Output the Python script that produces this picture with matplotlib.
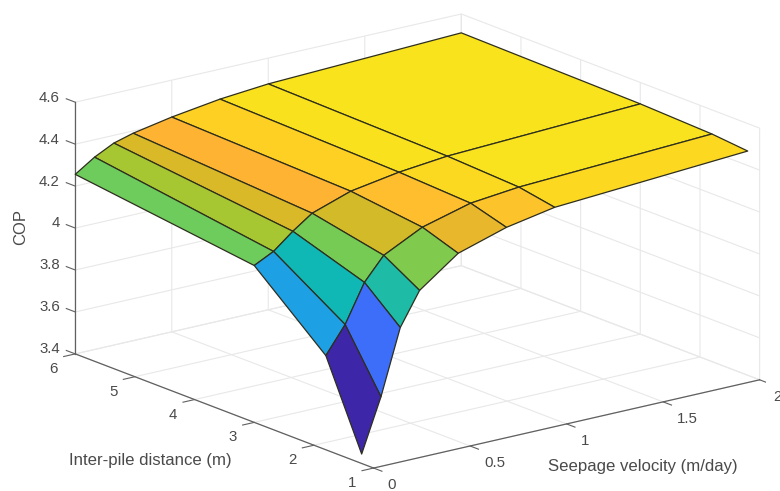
import numpy as np
import matplotlib
matplotlib.use('Agg')
import matplotlib.pyplot as plt
from matplotlib.colors import LinearSegmentedColormap, Normalize

plt.rcParams['font.family'] = ['Liberation Sans', 'DejaVu Sans']

# Seepage velocity (m/day) and inter-pile distance (m) of the mesh
velocity = [0, 0.1, 0.2, 0.3, 0.5, 0.75, 1, 2]
distance = [1.2, 1.8, 3, 6]

# COP, one row per inter-pile distance
cop_d12 = [3.445, 3.697, 4.006, 4.162, 4.297, 4.368, 4.411, 4.469]
cop_d18 = [3.849, 3.976, 4.156, 4.264, 4.356, 4.418, 4.442, 4.485]
cop_d30 = [4.148, 4.194, 4.269, 4.334, 4.397, 4.435, 4.459, 4.498]
cop_d60 = [4.256, 4.317, 4.363, 4.389, 4.424, 4.457, 4.477, 4.510]

velocity_ticks = [0, 0.5, 1, 1.5, 2]
velocity_labels = ['0', '0.5', '1', '1.5', '2']
distance_ticks = [1, 2, 3, 4, 5, 6]
cop_ticks = [3.4, 3.6, 3.8, 4, 4.2, 4.4, 4.6]
cop_labels = ['3.4', '3.6', '3.8', '4', '4.2', '4.4', '4.6']

X, Y = np.meshgrid(velocity, distance)
Z = np.array([cop_d12, cop_d18, cop_d30, cop_d60])

# Parula-like colours, matched to the faces of the picture
vmin, vmax = 3.445, 4.51
anchors = [(3.445, '#3e26a8'), (3.697, '#3c6efa'), (3.849, '#1ea0e4'),
           (3.976, '#0fb8b4'), (4.06, '#3cc08c'), (4.148, '#6ecc5a'),
           (4.194, '#a5c832'), (4.269, '#d7b928'), (4.334, '#feb432'),
           (4.397, '#fdd023'), (4.435, '#fae11e'), (4.51, '#f5e61a')]
cmap = LinearSegmentedColormap.from_list(
    'parula_like', [((z - vmin) / (vmax - vmin), c) for z, c in anchors])
norm = Normalize(vmin, vmax)

fig = plt.figure(figsize=(7.8, 4.91), dpi=100)

# Square 3D axes bigger than the figure height, sized so the box lands right
ax = fig.add_axes([49.25 / 780, -118.2 / 491, 717 / 780, 717 / 491], projection='3d')
ax.set_proj_type('ortho')
ax.view_init(elev=17.2, azim=-127.7)
ax.set_box_aspect((1, 1, 0.54))
ax.patch.set_alpha(0)

ax.plot_surface(X, Y, Z, facecolors=cmap(norm(Z)), rstride=1, cstride=1,
                shade=False, edgecolor='#2e2e1e', linewidth=0.9, antialiased=True)

ax.set_xlim(0, 2, view_margin=0)
ax.set_ylim(1, 6, view_margin=0)
ax.set_zlim(3.4, 4.6, view_margin=0)

ax.set_xticks(velocity_ticks)
ax.set_xticklabels(velocity_labels)
ax.set_yticks(distance_ticks)
ax.set_zticks(cop_ticks)
ax.set_zticklabels(cop_labels)

for axis in (ax.xaxis, ax.yaxis, ax.zaxis):
    axis.set_pane_color((1, 1, 1, 0))
    axis.pane.set_edgecolor('#e8e8e8')
    axis.line.set_color('#606060')
    axis.line.set_linewidth(0.9)
    axis._axinfo['grid']['color'] = '#e8e8e8'
    axis._axinfo['grid']['linewidth'] = 0.8
    axis._axinfo['tick']['linewidth'] = {True: 0, False: 0}
ax.tick_params(colors='#4a4a4a', labelsize=10.8, width=0, pad=2)
ax.tick_params(axis='x', pad=4.5)
ax.tick_params(axis='y', pad=7)
ax.tick_params(axis='z', pad=-2)
for label in ax.get_xticklabels():
    label.set_ha('left')
    label.set_va('center')
for label in ax.get_yticklabels():
    label.set_va('baseline')
for label in ax.get_zticklabels():
    label.set_ha('right')
    label.set_va('baseline')

# MATLAB-style tick marks, pointing out of the box
tick_style = dict(color='#606060', linewidth=0.8)
for v in velocity_ticks:
    ax.plot([v, v], [1, 0.86], [3.4, 3.4], **tick_style)
for d in distance_ticks:
    ax.plot([0, -0.06], [d, d], [3.4, 3.4], **tick_style)
for c in cop_ticks:
    ax.plot([0, 0], [6, 6.15], [c, c], **tick_style)

fig.text(150 / 780, 1 - 461 / 491, 'Inter-pile distance (m)', color='#4a4a4a',
         fontsize=12.1, ha='center', va='center')
fig.text(643 / 780, 1 - 466 / 491, 'Seepage velocity (m/day)', color='#4a4a4a',
         fontsize=12.1, ha='center', va='center')
fig.text(21 / 780, 1 - 227 / 491, 'COP', color='#4a4a4a', fontsize=12,
         rotation=90, ha='center', va='center')

fig.savefig('out.png', dpi=100)
